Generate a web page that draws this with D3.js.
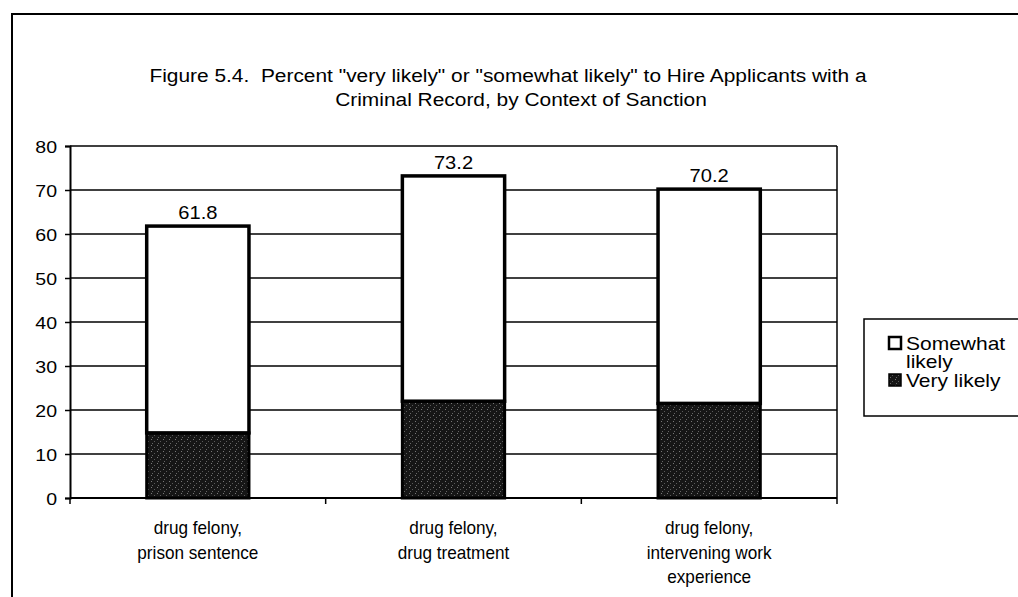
<!DOCTYPE html>
<html>
<head>
<meta charset="utf-8">
<script src="https://cdn.jsdelivr.net/npm/d3@7"></script>
<style>
  html, body { margin: 0; padding: 0; background: #fff; }
  svg { display: block; }
  text { white-space: pre; }
  .narrow { font-family: "Liberation Sans Narrow", "Arial Narrow", "Liberation Sans", Arial, sans-serif; }
  .wide { font-family: "Liberation Sans", Arial, sans-serif; }
</style>
</head>
<body>
<div id="grafico"></div>
<script>
// dados do grafico
var categorias = ["prison", "treatment", "work"];
var rotulosCategorias = [
    ["drug felony,", "prison sentence"],
    ["drug felony,", "drug treatment"],
    ["drug felony,", "intervening work", "experience"]
];
var muitoProvavel = [14.8, 22.0, 21.5];
var algoProvavel = [47.0, 51.2, 48.7];
var totais = [61.8, 73.2, 70.2];
var ticksY = [0, 10, 20, 30, 40, 50, 60, 70, 80];
var legenda = [
    { linhas: ["Somewhat", "likely"], tipo: "algo" },
    { linhas: ["Very likely"], tipo: "muito" }
];
var titulo = [
    "Figure 5.4.  Percent \"very likely\" or \"somewhat likely\" to Hire Applicants with a",
    "Criminal Record, by Context of Sanction"
];

var W = 1018, H = 597;
var plot = { left: 70, right: 837, top: 146, bottom: 498 };
var estica = 1.15; // a digitalizacao original esta esticada na horizontal

var svg = d3.select("#grafico").append("svg")
    .attr("width", W).attr("height", H);

function texto(g, x, y, str, tam, classe, ancora, fator) {
    return g.append("text")
        .attr("class", classe)
        .attr("transform", "translate(" + x + "," + y + ") scale(" + (fator || estica) + ",1)")
        .attr("text-anchor", ancora || "middle")
        .attr("font-size", tam).attr("fill", "#000")
        .text(str);
}

// textura escura das barras
var defs = svg.append("defs");
var pat = defs.append("pattern").attr("id", "escuro")
    .attr("patternUnits", "userSpaceOnUse").attr("width", 6).attr("height", 6);
pat.append("rect").attr("width", 6).attr("height", 6).attr("fill", "#161616");
pat.append("rect").attr("x", 1).attr("y", 1).attr("width", 1).attr("height", 1).attr("fill", "#777");
pat.append("rect").attr("x", 4).attr("y", 3).attr("width", 1).attr("height", 1).attr("fill", "#5a5a5a");
pat.append("rect").attr("x", 2).attr("y", 5).attr("width", 1).attr("height", 1).attr("fill", "#666");

// moldura externa
svg.append("path")
    .attr("d", "M12," + (H + 5) + " L12,14 L" + (W + 5) + ",14")
    .attr("fill", "none").attr("stroke", "#000").attr("stroke-width", 2);

// titulo
var gTitulo = svg.append("g");
var tituloX = [508, 521];
titulo.forEach(function(linha, i) {
    texto(gTitulo, tituloX[i], 82 + i * 24, linha, 19, "narrow", "middle", 1.1);
});

var x = d3.scaleBand().domain(categorias).range([plot.left, plot.right]);
var y = d3.scaleLinear().domain([0, 80]).range([plot.bottom, plot.top]);

// grade
svg.append("g").selectAll("line").data(ticksY.filter(function(t) { return t > 0; })).enter().append("line")
    .attr("x1", plot.left).attr("x2", plot.right)
    .attr("y1", function(d) { return y(d); }).attr("y2", function(d) { return y(d); })
    .attr("stroke", "#000").attr("stroke-width", 1.5);

// borda direita
svg.append("line").attr("x1", plot.right).attr("x2", plot.right)
    .attr("y1", plot.top).attr("y2", plot.bottom)
    .attr("stroke", "#000").attr("stroke-width", 1.5);

// eixo Y
var eixoY = svg.append("g").attr("transform", "translate(" + plot.left + ",0)")
    .call(d3.axisLeft(y).tickValues(ticksY).tickSize(5).tickPadding(0).tickFormat(d3.format("d")));
eixoY.select(".domain").attr("stroke", "#000").attr("stroke-width", 2);
eixoY.selectAll(".tick line").attr("stroke", "#000").attr("stroke-width", 1.5);
eixoY.selectAll(".tick text")
    .attr("class", "wide").attr("font-size", 17).attr("fill", "#000")
    .attr("x", 0).attr("dy", "0.36em")
    .attr("transform", "translate(-13,0) scale(" + estica + ",1)");

// eixo X
var fronteiras = categorias.map(function(c) { return x(c); }).concat([plot.right]);
svg.append("line").attr("x1", plot.left).attr("x2", plot.right)
    .attr("y1", plot.bottom).attr("y2", plot.bottom)
    .attr("stroke", "#000").attr("stroke-width", 2);
svg.append("g").selectAll("line").data(fronteiras).enter().append("line")
    .attr("x1", function(d) { return d; }).attr("x2", function(d) { return d; })
    .attr("y1", plot.bottom).attr("y2", plot.bottom + 6)
    .attr("stroke", "#000").attr("stroke-width", 1.5);

// barras
var larguraBarra = x.bandwidth() * 0.4;
var desloc = x.bandwidth() * 0.3;

svg.append("g").selectAll("rect").data(categorias).enter().append("rect")
    .attr("x", function(d) { return x(d) + desloc; })
    .attr("width", larguraBarra)
    .attr("y", function(d, i) { return y(muitoProvavel[i]); })
    .attr("height", function(d, i) { return y(0) - y(muitoProvavel[i]); })
    .attr("fill", "url(#escuro)").attr("stroke", "#000").attr("stroke-width", 3);

svg.append("g").selectAll("rect").data(categorias).enter().append("rect")
    .attr("x", function(d) { return x(d) + desloc; })
    .attr("width", larguraBarra)
    .attr("y", function(d, i) { return y(muitoProvavel[i] + algoProvavel[i]); })
    .attr("height", function(d, i) { return y(muitoProvavel[i]) - y(muitoProvavel[i] + algoProvavel[i]); })
    .attr("fill", "#fff").attr("stroke", "#000").attr("stroke-width", 3.5);

// rotulos de valor
var gValores = svg.append("g");
categorias.forEach(function(c, i) {
    texto(gValores, x(c) + x.bandwidth() / 2, y(totais[i]) - 7, totais[i].toFixed(1), 17.5, "wide");
});

// rotulos das categorias
var gCat = svg.append("g");
categorias.forEach(function(c, i) {
    rotulosCategorias[i].forEach(function(linha, j) {
        texto(gCat, x(c) + x.bandwidth() / 2, 534 + j * 24.5, linha, 17.5, "narrow", "middle", 0.98);
    });
});

// legenda
svg.append("rect").attr("x", 864).attr("y", 319).attr("width", 200).attr("height", 97)
    .attr("fill", "#fff").attr("stroke", "#000").attr("stroke-width", 1.5);

var gLeg = svg.append("g");
var posLeg = [343, 380];
legenda.forEach(function(item, i) {
    var cy = posLeg[i];
    gLeg.append("rect").attr("x", 889).attr("y", cy - 6).attr("width", 12).attr("height", 12)
        .attr("fill", item.tipo == "algo" ? "#fff" : "url(#escuro)")
        .attr("stroke", "#000").attr("stroke-width", item.tipo == "algo" ? 2.5 : 1.5);
    item.linhas.forEach(function(linha, j) {
        texto(gLeg, 906, cy + 6.5 + j * 18, linha, 17.5, "wide", "start", 1.2);
    });
});
</script>
</body>
</html>
